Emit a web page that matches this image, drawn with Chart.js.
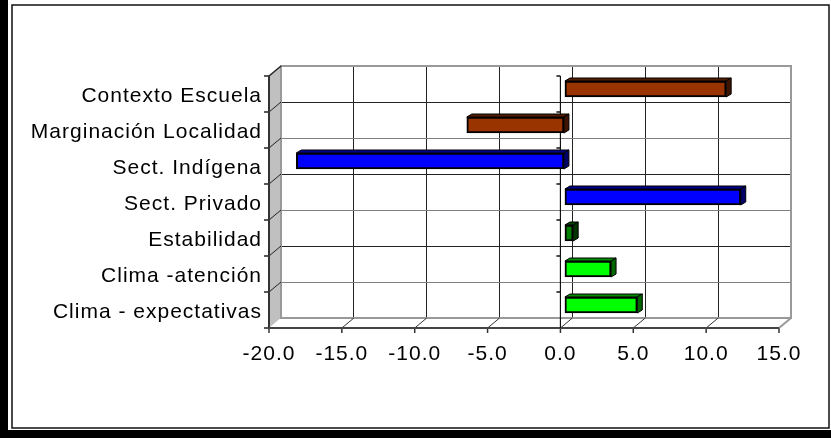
<!DOCTYPE html>
<html><head><meta charset="utf-8">
<script src="https://cdn.jsdelivr.net/npm/chart.js@4/dist/chart.umd.min.js"></script>
<style>html,body{margin:0;padding:0;background:#fff;overflow:hidden}canvas{display:block}</style>
</head><body>
<canvas id="c" width="831" height="438"></canvas>
<script>
// ---- data ----
const categories = ['Contexto Escuela', 'Marginación Localidad', 'Sect. Indígena', 'Sect. Privado', 'Estabilidad', 'Clima -atención', 'Clima - expectativas'];
const values = [11.1, -6.7, -18.4, 12.1, 0.6, 3.2, 5.0];
const barColors = ['#993300', '#993300', '#0000FF', '#0000FF', '#007F00', '#00FF00', '#00FF00'];
const xMin = -20, xMax = 15, xStep = 5;

// ---- 3D geometry (pixels) ----
const DX = -12, DY = 10;   // back wall -> front plane
const BX = -8, BY = 5;     // back wall -> bar plane
const PX = 5, PY = 3;      // bar depth
const SPACING = '1px';

function shade(hex, f) {
  const n = parseInt(hex.slice(1), 16);
  const r = Math.round(((n >> 16) & 255) * f), g = Math.round(((n >> 8) & 255) * f), b = Math.round((n & 255) * f);
  return 'rgb(' + r + ',' + g + ',' + b + ')';
}
function line(ctx, x1, y1, x2, y2, color, w) {
  ctx.beginPath(); ctx.moveTo(x1, y1); ctx.lineTo(x2, y2);
  ctx.strokeStyle = color; ctx.lineWidth = w; ctx.stroke();
}
function poly(ctx, pts, fill, stroke, w) {
  ctx.beginPath(); ctx.moveTo(pts[0][0], pts[0][1]);
  for (let i = 1; i < pts.length; i++) ctx.lineTo(pts[i][0], pts[i][1]);
  ctx.closePath();
  if (fill) { ctx.fillStyle = fill; ctx.fill(); }
  if (stroke) { ctx.strokeStyle = stroke; ctx.lineWidth = w; ctx.stroke(); }
}

const plugin3d = {
  id: 'p3d',
  beforeLayout(chart) { chart.ctx.letterSpacing = SPACING; },
  beforeDraw(chart) {
    const ctx = chart.ctx;
    ctx.letterSpacing = SPACING;
    ctx.save();
    ctx.fillStyle = '#fff'; ctx.fillRect(0, 0, chart.width, chart.height);
    ctx.fillStyle = '#000';
    ctx.fillRect(0, 0, 8, chart.height);
    ctx.fillRect(0, 430, chart.width, 8);
    ctx.strokeStyle = '#111'; ctx.lineWidth = 1.5;
    ctx.strokeRect(12, 5, 817, 423);
    ctx.restore();
  },
  beforeDatasetsDraw(chart) {
    const ctx = chart.ctx, a = chart.chartArea, xs = chart.scales.x;
    const L = a.left, R = a.right, T = a.top, B = a.bottom;
    ctx.save();
    // left wall
    poly(ctx, [[L, T], [L, B], [L + DX, B + DY], [L + DX, T + DY]], '#c0c0c0', null, 0);
    // floor
    poly(ctx, [[L, B], [R, B], [R + DX, B + DY], [L + DX, B + DY]], '#ffffff', null, 0);
    // back wall border
    ctx.strokeStyle = '#999'; ctx.lineWidth = 2;
    ctx.strokeRect(L, T, R - L, B - T);
    // category boundaries: left-wall diagonals + ticks, zero-axis ticks
    const n = categories.length;
    const rowH = (B - T) / n;
    const x0f = xs.getPixelForValue(0) + DX;
    for (let k = 0; k <= n; k++) {
      const yb = T + k * rowH;
      if (k > 0 && k < n) line(ctx, L + DX, yb + DY, L, yb, '#222', 1);
      line(ctx, L + DX - 5, yb + DY, L + DX, yb + DY, '#222', 1.5);
      if (k < n) line(ctx, x0f - 4, yb + DY, x0f, yb + DY, '#111', 1.5);
    }
    // value ticks: floor diagonals + front ticks
    for (let v = xMin; v <= xMax; v += xStep) {
      const xb = xs.getPixelForValue(v);
      if (v > xMin && v < xMax) line(ctx, xb + DX, B + DY, xb, B, '#333', 1);
      line(ctx, xb + DX, B + DY, xb + DX, B + DY + 5, '#333', 1.5);
    }
    // right floor edge
    line(ctx, R, B, R + DX, B + DY, '#999', 2);
    // left wall top edge & front edge
    line(ctx, L + DX, T + DY, L, T, '#222', 1.5);
    line(ctx, L + DX, T + DY, L + DX, B + DY, '#333', 2);
    // floor front edge
    line(ctx, L + DX, B + DY, R + DX, B + DY, '#444', 2);
    // front zero axis
    line(ctx, x0f, T + DY, x0f, B + DY, '#111', 1.2);
    ctx.restore();
    ctx.save();
    ctx.translate(BX, BY);
  },
  afterDatasetsDraw(chart) {
    const ctx = chart.ctx;
    const meta = chart.getDatasetMeta(0);
    meta.data.forEach((el, i) => {
      const p = el.getProps(['x', 'y', 'base', 'height'], true);
      const left = Math.min(p.x, p.base), right = Math.max(p.x, p.base);
      const top = p.y - p.height / 2, bottom = p.y + p.height / 2;
      const c = barColors[i];
      poly(ctx, [[left, top], [right, top], [right + PX, top - PY], [left + PX, top - PY]], shade(c, 0.55), '#000', 1);
      poly(ctx, [[right, top], [right + PX, top - PY], [right + PX, bottom - PY], [right, bottom]], shade(c, 0.4), '#000', 1);
    });
    ctx.restore();
  }
};

const FONT = { family: '"Liberation Sans", Arial, sans-serif', size: 21 };

new Chart(document.getElementById('c'), {
  type: 'bar',
  data: {
    labels: categories,
    datasets: [{
      data: values,
      backgroundColor: barColors,
      borderColor: '#000',
      borderWidth: 2,
      borderSkipped: false,
      barThickness: 16
    }]
  },
  options: {
    indexAxis: 'y',
    responsive: false,
    animation: false,
    events: [],
    devicePixelRatio: 1,
    layout: { padding: { top: 66, right: 40, left: 0, bottom: 0 } },
    plugins: { legend: { display: false }, tooltip: { enabled: false } },
    scales: {
      x: {
        min: xMin, max: xMax,
        ticks: { stepSize: xStep, color: '#000', font: FONT, padding: 24, labelOffset: DX, maxRotation: 0, callback: v => Number(v).toFixed(1) },
        grid: { color: '#222', lineWidth: 1, drawTicks: false },
        border: { display: false },
        afterFit: s => { s.height = 120; s.paddingLeft = 0; s.paddingRight = 0; }
      },
      y: {
        ticks: { color: '#000', font: FONT, padding: 19, labelOffset: DY + 2 },
        grid: { color: (c) => (c.index % 2 === 0 ? '#808080' : '#222'), lineWidth: 1, drawTicks: false, offset: true },
        border: { display: false },
        afterFit: s => { s.width = 281; s.paddingTop = 0; s.paddingBottom = 0; }
      }
    }
  },
  plugins: [plugin3d]
});
</script>
</body></html>
